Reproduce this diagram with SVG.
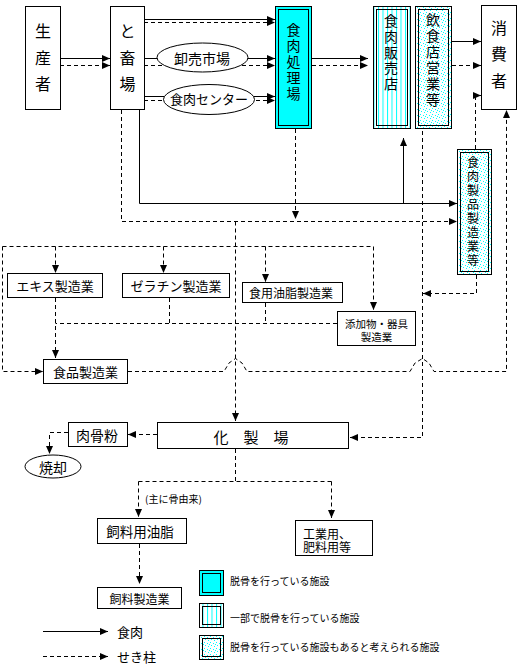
<svg xmlns="http://www.w3.org/2000/svg" width="523" height="672" viewBox="0 0 523 672">
<style>
.s{fill:none;stroke:#000;stroke-width:1}
.d{fill:none;stroke:#000;stroke-width:1;stroke-dasharray:4 3}
.box{fill:#fff;stroke:#000;stroke-width:1}
.in{fill:none;stroke:#000;stroke-width:1}
.t{font-family:"Noto Sans CJK JP","Noto Sans CJK SC",sans-serif;fill:#000;text-anchor:middle;dominant-baseline:central}
.tl{font-family:"Noto Sans CJK JP","Noto Sans CJK SC",sans-serif;fill:#000;dominant-baseline:central}
</style>
<defs>
<marker id="ah" viewBox="0 0 8 8" refX="8" refY="4" markerWidth="8" markerHeight="8" markerUnits="userSpaceOnUse" orient="auto">
<path d="M0,0.5 L8,4 L0,7.5 z" fill="#000"/>
</marker>
<pattern id="stripes" width="4.5" height="10" patternUnits="userSpaceOnUse">
<rect width="4.5" height="10" fill="#fff"/>
<rect x="0" y="0" width="1" height="10" fill="#00ffff"/>
</pattern>
<pattern id="dots" width="6" height="6" patternUnits="userSpaceOnUse">
<rect width="6" height="6" fill="#fff"/>
<rect x="0" y="0" width="1" height="1" fill="#00ffff"/>
<rect x="3" y="1" width="1" height="1" fill="#00ffff"/>
<rect x="1" y="3" width="1" height="1" fill="#00ffff"/>
<rect x="4" y="4" width="1" height="1" fill="#00ffff"/>
<rect x="5" y="2" width="1" height="1" fill="#00ffff"/>
</pattern>
</defs>
<rect width="523" height="672" fill="#fff"/>

<g id="connectors">
<path class="s" d="M60,58.5 H110" marker-end="url(#ah)"/>
<path class="d" d="M60,65.5 H110" marker-end="url(#ah)"/>
<path class="s" d="M144,19.5 H275" marker-end="url(#ah)"/>
<path class="d" d="M144,22.5 H275" marker-end="url(#ah)"/>
<path class="s" d="M144,58.5 H275" marker-end="url(#ah)"/>
<path class="d" d="M144,65.5 H275" marker-end="url(#ah)"/>
<path class="s" d="M144,96.5 H275" marker-end="url(#ah)"/>
<path class="d" d="M144,100.5 H275" marker-end="url(#ah)"/>
<path class="s" d="M312,58.5 H368" marker-end="url(#ah)"/>
<path class="d" d="M312,65.5 H368" marker-end="url(#ah)"/>
<path class="s" d="M452,41.5 H481" marker-end="url(#ah)"/>
<path class="d" d="M452,65.5 H481" marker-end="url(#ah)"/>
<path class="d" d="M475.5,149 V95.5 H481" marker-end="url(#ah)"/>
<path class="s" d="M139.5,110 V203.5 H457" marker-end="url(#ah)"/>
<path class="d" d="M121.5,110 V221.5 H457" marker-end="url(#ah)"/>
<path class="s" d="M403.5,203.5 V138" marker-end="url(#ah)"/>
<path class="d" d="M295.5,129 V219" marker-end="url(#ah)"/>
<path class="d" d="M235.5,221.5 V421" marker-end="url(#ah)"/>
<path class="d" d="M2.5,246.5 V371.5 H43" marker-end="url(#ah)"/>
<path class="d" d="M2.5,246.5 H373.5 V310" marker-end="url(#ah)"/>
<path class="d" d="M55.5,246.5 V273" marker-end="url(#ah)"/>
<path class="d" d="M163.5,246.5 V273" marker-end="url(#ah)"/>
<path class="d" d="M265.5,246.5 V282" marker-end="url(#ah)"/>
<path class="d" d="M55.5,298 V358" marker-end="url(#ah)"/>
<path class="d" d="M337,323.5 H55.5"/>
<path class="d" d="M265.5,303 V323.5"/>
<path class="d" d="M169.5,298 V323.5"/>
<path class="d" d="M128,371.5 H224 L229,363 L235.5,358.5 L242,363 L247,371.5 H410 L415,363 L422.5,358.5 L429,363 L434,371.5 H506.5 V110" marker-end="url(#ah)"/>
<path class="d" d="M422.5,131 V437.5 H350" marker-end="url(#ah)"/>
<path class="d" d="M476.5,275 V293.5 H423" marker-end="url(#ah)"/>
<path class="d" d="M157,434.5 H128" marker-end="url(#ah)"/>
<path class="d" d="M68,432.5 H49.5 V454" marker-end="url(#ah)"/>
<path class="d" d="M235.5,449 V481.5"/>
<path class="d" d="M138.5,481.5 H331.5"/>
<path class="d" d="M138.5,481.5 V517" marker-end="url(#ah)"/>
<path class="d" d="M331.5,481.5 V518" marker-end="url(#ah)"/>
<path class="d" d="M139.5,544 V584" marker-end="url(#ah)"/>
<path class="s" d="M43,631.5 H108" marker-end="url(#ah)"/>
<path class="d" d="M43,656.5 H108" marker-end="url(#ah)"/>
</g>

<g id="seisansha">
<rect class="box" x="25.5" y="6.5" width="35" height="103"/>
<text class="t" font-size="16"><tspan x="43" y="30">生</tspan><tspan x="43" y="57">産</tspan><tspan x="43" y="83">者</tspan></text>
</g>
<g id="tochikujo">
<rect class="box" x="110.5" y="6.5" width="34" height="103"/>
<text class="t" font-size="16"><tspan x="127.5" y="30">と</tspan><tspan x="127.5" y="57">畜</tspan><tspan x="127.5" y="83">場</tspan></text>
</g>
<g id="oroshiuri">
<ellipse cx="202.5" cy="57.5" rx="45.5" ry="14.5" fill="#fff" stroke="#000"/>
<text class="t" font-size="14" x="202" y="58">卸売市場</text>
</g>
<g id="shokuniku-center">
<ellipse cx="209" cy="99.5" rx="45.5" ry="15" fill="#fff" stroke="#000"/>
<text class="t" font-size="13" x="209" y="98">食肉センター</text>
</g>
<g id="shokuniku-shori">
<rect x="275.5" y="6.5" width="36" height="122" fill="#00ffff" stroke="#000"/>
<rect class="in" x="278.5" y="9.5" width="30" height="116"/>
<text class="t" font-size="14"><tspan x="293.5" y="29">食</tspan><tspan x="293.5" y="45">肉</tspan><tspan x="293.5" y="61">処</tspan><tspan x="293.5" y="77">理</tspan><tspan x="293.5" y="93">場</tspan></text>
</g>
<g id="hanbaiten">
<rect x="373.5" y="6.5" width="37" height="122" fill="url(#stripes)" stroke="#000"/>
<rect x="376.5" y="9.5" width="31" height="116" fill="url(#stripes)" stroke="#000"/>
<text class="t" font-size="14"><tspan x="391" y="20">食</tspan><tspan x="391" y="36">肉</tspan><tspan x="391" y="51.5">販</tspan><tspan x="391" y="67">売</tspan><tspan x="391" y="83">店</tspan></text>
</g>
<g id="inshokuten">
<rect x="415.5" y="6.5" width="36" height="122" fill="url(#dots)" stroke="#000"/>
<rect x="418.5" y="9.5" width="30" height="116" fill="url(#dots)" stroke="#000"/>
<text class="t" font-size="14"><tspan x="433" y="19">飲</tspan><tspan x="433" y="35">食</tspan><tspan x="433" y="51">店</tspan><tspan x="433" y="67">営</tspan><tspan x="433" y="83">業</tspan><tspan x="433" y="99">等</tspan></text>
</g>
<g id="shohisha">
<rect class="box" x="481.5" y="5.5" width="35" height="104"/>
<text class="t" font-size="16"><tspan x="499" y="27">消</tspan><tspan x="499" y="53">費</tspan><tspan x="499" y="80">者</tspan></text>
</g>
<g id="seihin">
<rect x="457.5" y="149.5" width="34" height="125" fill="url(#dots)" stroke="#000"/>
<rect x="460.5" y="152.5" width="28" height="119" fill="url(#dots)" stroke="#000"/>
<text class="t" font-size="12"><tspan x="473" y="161">食</tspan><tspan x="473" y="175">肉</tspan><tspan x="473" y="189">製</tspan><tspan x="473" y="203">品</tspan><tspan x="473" y="217">製</tspan><tspan x="473" y="231">造</tspan><tspan x="473" y="245">業</tspan><tspan x="473" y="259">等</tspan></text>
</g>
<g id="ekisu">
<rect class="box" x="7.5" y="273.5" width="95" height="24"/>
<text class="t" font-size="13" x="55" y="285.5">エキス製造業</text>
</g>
<g id="zeratin">
<rect class="box" x="122.5" y="273.5" width="107" height="24"/>
<text class="t" font-size="13" x="176" y="285.5">ゼラチン製造業</text>
</g>
<g id="yushi">
<rect class="box" x="242.5" y="282.5" width="100" height="20"/>
<text class="t" font-size="12" x="291" y="292.5">食用油脂製造業</text>
</g>
<g id="tenkabutsu">
<rect class="box" x="337.5" y="311.5" width="78" height="34"/>
<text class="t" font-size="10.5"><tspan x="376.5" y="322.5">添加物・器具</tspan><tspan x="376.5" y="336">製造業</tspan></text>
</g>
<g id="shokuhin">
<rect class="box" x="43.5" y="359.5" width="84" height="24"/>
<text class="t" font-size="13" x="85.5" y="371.5">食品製造業</text>
</g>
<g id="kaseijo">
<rect class="box" x="157.5" y="422.5" width="191" height="26"/>
<text class="tl" font-size="15" x="213.5" y="436">化　製　場</text>
</g>
<g id="nikukotsufun">
<rect class="box" x="68.5" y="422.5" width="59" height="24"/>
<text class="t" font-size="14" x="97" y="434.5">肉骨粉</text>
</g>
<g id="shokyaku">
<ellipse cx="53" cy="466.5" rx="28" ry="11.5" fill="#fff" stroke="#000"/>
<text class="t" font-size="14" x="53" y="467">焼却</text>
</g>
<text class="tl" font-size="10" x="145" y="498">(主に骨由来)</text>
<g id="shiryo-yushi">
<rect class="box" x="97.5" y="518.5" width="89" height="25"/>
<text class="t" font-size="13.5" x="140" y="531">飼料用油脂</text>
</g>
<g id="kogyo">
<rect class="box" x="295.5" y="520.5" width="77" height="35"/>
<text class="tl" font-size="12"><tspan x="303" y="533">工業用、</tspan><tspan x="303" y="546">肥料用等</tspan></text>
</g>
<g id="shiryo-seizo">
<rect class="box" x="97.5" y="587.5" width="84" height="21"/>
<text class="t" font-size="12" x="139.5" y="598">飼料製造業</text>
</g>
<g id="legend">
<text class="tl" font-size="13" x="117" y="631">食肉</text>
<text class="tl" font-size="13" x="117" y="656">せき柱</text>
<rect x="199.5" y="570.5" width="24" height="25" fill="#00ffff" stroke="#000"/>
<rect class="in" x="202.5" y="573.5" width="18" height="19"/>
<text class="tl" font-size="10" x="230" y="580">脱骨を行っている施設</text>
<rect x="199.5" y="603.5" width="24" height="24" fill="url(#stripes)" stroke="#000"/>
<rect x="202.5" y="606.5" width="18" height="18" fill="url(#stripes)" stroke="#000"/>
<text class="tl" font-size="10" x="230" y="617">一部で脱骨を行っている施設</text>
<rect x="199.5" y="635.5" width="24" height="24" fill="url(#dots)" stroke="#000"/>
<rect x="202.5" y="638.5" width="18" height="18" fill="url(#dots)" stroke="#000"/>
<text class="tl" font-size="10" x="230" y="646">脱骨を行っている施設もあると考えられる施設</text>
</g>
</svg>
